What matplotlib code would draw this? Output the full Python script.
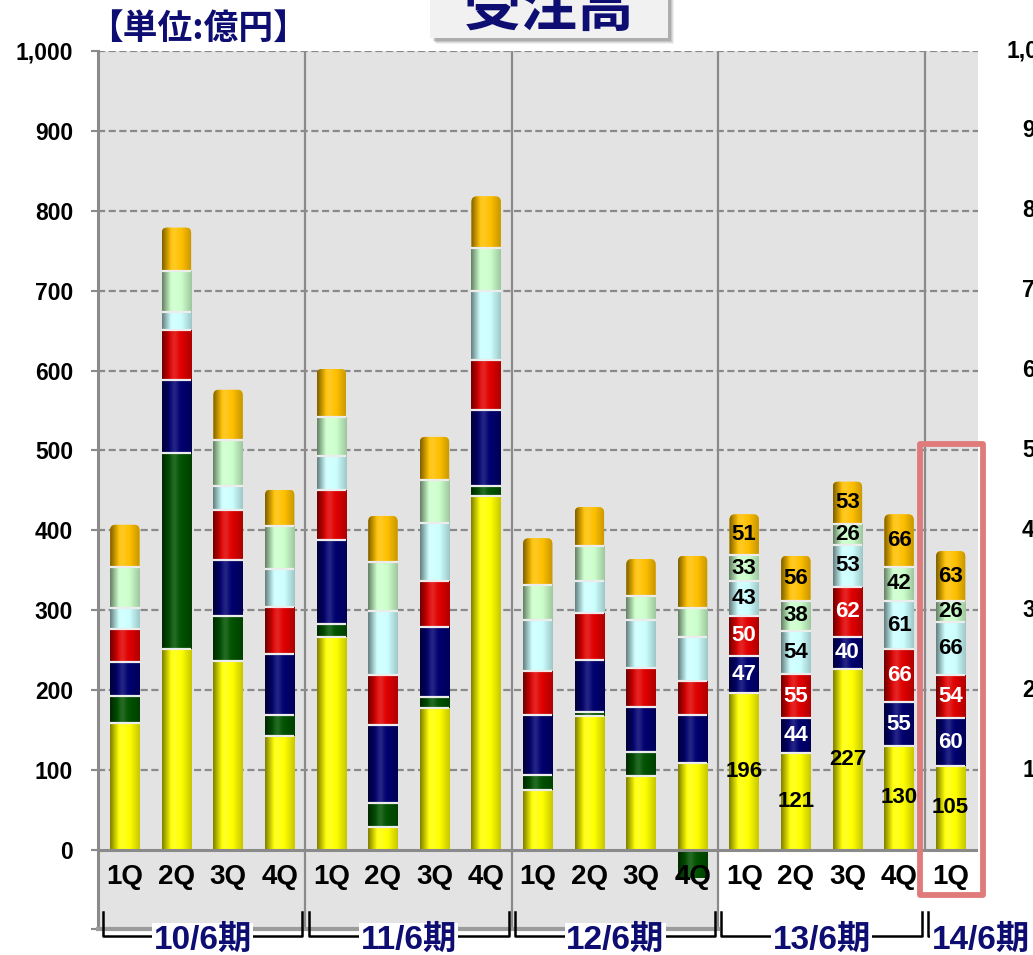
import numpy as np
import matplotlib.pyplot as plt
import matplotlib.colors as mcolors
from matplotlib.patches import Rectangle, PathPatch
from matplotlib.path import Path
from matplotlib.transforms import blended_transform_factory

# quarterly orders received, 億円, stacked by segment (bottom -> top)
quarters = ["1Q", "2Q", "3Q", "4Q"] * 4 + ["1Q"]
periods = ["10/6期", "11/6期", "12/6期", "13/6期", "14/6期"]

yellow = [159, 252, 236, 142, 267, 29, 178, 443, 75, 168, 93, 109, 196, 121, 227, 130, 105]
green = [34, 245, 57, 27, 16, 30, 14, 13, 19, 5, 29, -35, 0, 0, 0, 0, 0]
navy = [42, 91, 70, 76, 105, 97, 87, 95, 75, 65, 57, 60, 47, 44, 40, 55, 60]
red = [42, 63, 63, 59, 63, 63, 57, 62, 55, 59, 49, 43, 50, 55, 62, 66, 54]
cyan = [26, 22, 30, 47, 42, 80, 73, 86, 64, 39, 60, 55, 43, 54, 53, 61, 66]
mint = [51, 51, 57, 55, 49, 61, 54, 55, 43, 44, 30, 36, 33, 38, 26, 42, 26]
orange = [53, 55, 63, 45, 60, 58, 54, 64, 59, 49, 46, 65, 51, 56, 53, 66, 63]

# the neighbouring chart's axis, cut by the right edge
edge_ticks = [1000, 900, 800, 700, 600, 500, 400, 300, 200, 100]
edge_labels = ["1,0", "9", "8", "7", "6", "5", "4", "3", "2", "1"]

series = [yellow, green, navy, red, cyan, mint, orange]
colors = ["#ffff00", "#005200", "#000070", "#e00000", "#ccffff", "#ccffcc", "#ffc000"]
text_colors = ["black", "white", "white", "white", "black", "black", "black"]
labeled_from = 12  # only the latest bars carry value labels

NAVY_TXT = "#0d0d72"
GRID = "#8a8a8a"
MIXED = ["Liberation Sans", "Noto Sans CJK JP"]

W, H = 1033, 955
fig = plt.figure(figsize=(W / 100, H / 100), dpi=100)
ax = fig.add_axes([98 / W, 1 - 929 / H, 880 / W, 878 / H])
XMIN, XMAX, YMIN, YMAX = -0.52, 16.53, -99, 1000
ax.set_facecolor("#e3e3e3")


def cylinder(color, n=64):
    """Horizontal shading strip that gives a bar a rounded look."""
    t = np.linspace(0, 1, n)
    f = np.interp(t, [0, 0.3, 0.65, 1], [0.5, 1.0, 1.0, 0.78])
    h = 0.14 * np.exp(-((t - 0.42) / 0.13) ** 2)
    rgb = np.array(mcolors.to_rgb(color))[None, :] * f[:, None]
    rgb = rgb + (1 - rgb) * h[:, None]
    return rgb[None, :, :]


def rounded_top(x0, x1, y0, y1, rx, ry):
    verts = [(x0, y0), (x1, y0), (x1, y1 - ry), (x1, y1), (x1 - rx, y1),
             (x0 + rx, y1), (x0, y1), (x0, y1 - ry), (x0, y0)]
    codes = [Path.MOVETO, Path.LINETO, Path.LINETO, Path.CURVE3, Path.CURVE3,
             Path.LINETO, Path.CURVE3, Path.CURVE3, Path.CLOSEPOLY]
    return Path(verts, codes)


# grid, separators, axis lines
for v in range(100, 1001, 100):
    ax.axhline(v, color=GRID, lw=1.6, ls=(0, (3.2, 1.6)), zorder=1)
ax.add_patch(Rectangle((11.5, YMIN), XMAX - 11.5, -YMIN, facecolor="white",
                       edgecolor="none", zorder=0.5))
for s in (3.5, 7.5, 11.5):
    ax.axvline(s, color=GRID, lw=1.6, zorder=1)
ax.vlines(15.5, 0, YMAX, color=GRID, lw=1.6, zorder=1)
ax.axhline(0, color=GRID, lw=2.2, zorder=5)
ax.plot([XMIN, 11.5], [YMIN, YMIN], color="#9c9c9c", lw=3, clip_on=False, zorder=5)

# stacked bars
x = np.arange(len(yellow))
width = 0.57
pos_base = np.zeros(len(x))
neg_base = np.zeros(len(x))
for k, (vals, col) in enumerate(zip(series, colors)):
    vals = np.array(vals, dtype=float)
    bottom = np.where(vals >= 0, pos_base, neg_base)
    bars = ax.bar(x, vals, width=width, bottom=bottom, color=col,
                  edgecolor="none", zorder=2)
    for i, (b, v, y0) in enumerate(zip(bars, vals, bottom)):
        if v == 0:
            continue
        x0, x1 = x[i] - width / 2, x[i] + width / 2
        lo, hi = sorted((y0, y0 + v))
        clip = b
        if k == len(series) - 1:
            clip = PathPatch(rounded_top(x0, x1, lo, hi, 0.1, 7),
                             transform=ax.transData)
            b.set_clip_path(clip)
        im = ax.imshow(cylinder(col), extent=(x0, x1, lo, hi), aspect="auto",
                       interpolation="bilinear", zorder=3)
        im.set_clip_path(clip)
        if k < len(series) - 1 and v > 0:
            ax.hlines(hi, x0, x1, color="#ececec", lw=1.6, zorder=4)
        if i >= labeled_from:
            ax.text(x[i], (lo + hi) / 2, f"{int(v)}", ha="center", va="center",
                    fontsize=16, fontweight="bold", color=text_colors[k],
                    family="Liberation Sans", zorder=6)
    pos_base = pos_base + np.where(vals >= 0, vals, 0)
    neg_base = neg_base + np.where(vals < 0, vals, 0)

# y axis
ax.set_xlim(XMIN, XMAX)
ax.set_ylim(YMIN, YMAX)
ax.set_xticks([])
ticks = np.arange(0, 1001, 100)
ax.set_yticks(ticks)
ax.set_yticklabels([f"{t:,}" for t in ticks], fontsize=16.5, fontweight="bold",
                   family="Liberation Sans")
ax.set_yticks([YMIN], minor=True)
ax.tick_params(axis="y", which="both", direction="out", length=5, width=1.5,
               color=GRID, pad=13)
for side in ("top", "right", "bottom"):
    ax.spines[side].set_visible(False)
ax.spines["left"].set_color(GRID)
ax.spines["left"].set_linewidth(2.2)

# quarter labels and period brackets
for i, q in enumerate(quarters):
    ax.text(x[i], -34, q, ha="center", va="center", fontsize=20,
            fontweight="bold", family="Liberation Sans", zorder=6)

edges = [XMIN + 0.04, 3.5, 7.5, 11.5, 15.5]
b_top, b_bot = -78, -108
for g, period in enumerate(periods):
    left = edges[g] + 0.06
    if g < len(periods) - 1:
        right = edges[g + 1] - 0.06
        ax.plot([left, left, right, right], [b_top, b_bot, b_bot, b_top],
                color="black", lw=1.8, clip_on=False, zorder=6)
        cx = (edges[g] + edges[g + 1]) / 2
    else:
        ax.plot([left, left, left + 0.2], [b_top, b_bot, b_bot],
                color="black", lw=1.8, clip_on=False, zorder=6)
        cx = 16.58
    ax.text(cx, -113, period, ha="center", va="center", fontsize=24,
            fontweight="bold", color=NAVY_TXT, family=MIXED, clip_on=False,
            zorder=7, bbox=dict(facecolor="white", edgecolor="none", pad=1))

# highlight on the latest quarter
ax.add_patch(Rectangle((15.41, -56), 1.22, 564, fill=False, edgecolor="#df7b7b",
                       lw=4.2, joinstyle="round", clip_on=False, zorder=8))

# neighbouring axis labels at the right edge
tr = blended_transform_factory(fig.transFigure, ax.transData)
for t, lab in zip(edge_ticks, edge_labels):
    xr = 1007 if lab == "1,0" else 1022
    fig.text(xr / W, t, lab, transform=tr, ha="left", va="center",
             fontsize=16.5, fontweight="bold", family="Liberation Sans")

# unit label and title box
fig.text(88 / W, 1 - 28 / H, "【単位:億円】", ha="left", va="center", fontsize=25,
         fontweight="bold", color=NAVY_TXT, family="Noto Sans CJK JP")
for k, a in enumerate([0.06, 0.08, 0.10, 0.12]):
    d = 6 - k
    fig.patches.append(Rectangle(((430 + d) / W, 1 - (38 + d) / H), 238 / W, 60 / H,
                                 transform=fig.transFigure, facecolor="black",
                                 edgecolor="none", alpha=a, zorder=1))
fig.patches.append(Rectangle((430 / W, 1 - 38 / H), 238 / W, 60 / H,
                             transform=fig.transFigure, facecolor="#f1f1f1",
                             edgecolor="none", zorder=2))
fig.text(549 / W, 1 - 9 / H, "受注高", ha="center", va="center", fontsize=41,
         fontweight="bold", color=NAVY_TXT, family="Noto Sans CJK JP", zorder=3)

fig.savefig("out.png", dpi=100)
